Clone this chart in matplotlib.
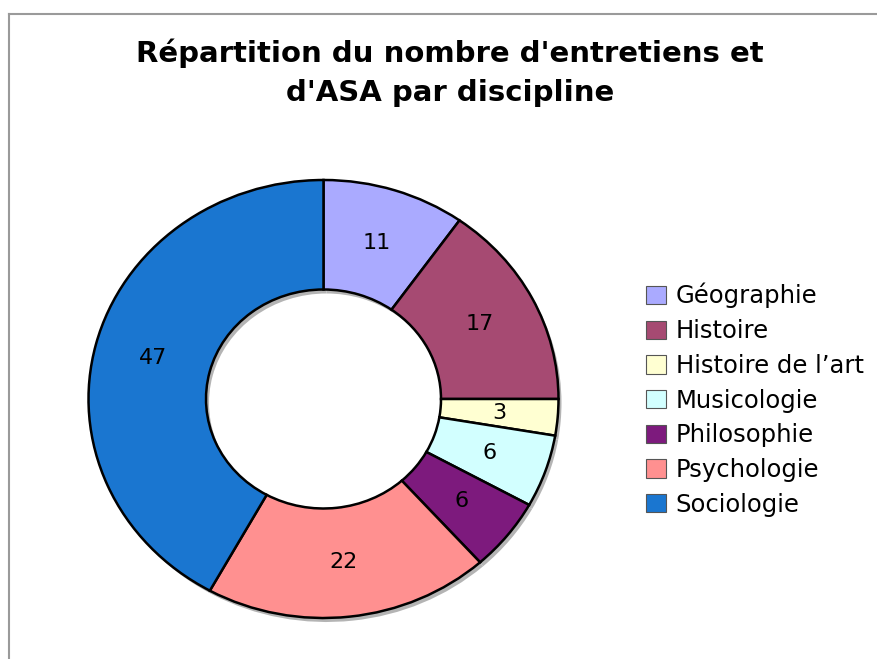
import matplotlib
matplotlib.use("Agg")
import matplotlib.pyplot as plt
from matplotlib.patches import Patch
import numpy as np

# données
disciplines = ["Géographie", "Histoire", "Histoire de l\u2019art", "Musicologie",
               "Philosophie", "Psychologie", "Sociologie"]
effectifs = [11, 17, 3, 6, 6, 22, 47]
couleurs = ["#aaaaff", "#a64a72", "#ffffd2", "#d2ffff", "#7d1a7d", "#ff9090", "#1a76d0"]

W, H = 877, 659
fig = plt.figure(figsize=(W / 100, H / 100), dpi=100)

# cadre gris en haut et à gauche
cadre = fig.add_axes([0, 0, 1, 1])
cadre.set_xlim(0, W)
cadre.set_ylim(H, 0)
cadre.axis("off")
cadre.plot([9, W], [14, 14], color="#9a9a9a", lw=1.5)
cadre.plot([9, 9], [14, H], color="#9a9a9a", lw=1.5)

# anneau (légèrement elliptique, comme l'original)
cx, cy, rx, ry = 323.5, 399, 235, 219
ax = fig.add_axes([(cx - rx) / W, 1 - (cy + ry) / H, 2 * rx / W, 2 * ry / H])
largeur = 0.5

# ombre
dx, dy = 3 / rx, -4 / ry
ax.pie(effectifs, radius=1, center=(dx, dy), startangle=90, counterclock=False,
       colors=["#b4b4b4"] * len(effectifs),
       wedgeprops=dict(width=largeur, linewidth=0), frame=True)
ax.pie(effectifs, radius=1, center=(0, 0), startangle=90, counterclock=False,
       colors=couleurs,
       wedgeprops=dict(width=largeur, edgecolor="black", linewidth=1.8),
       frame=True)
ax.set_aspect("auto")
ax.set_xlim(-1, 1)
ax.set_ylim(-1, 1)
ax.axis("off")

# étiquettes
total = sum(effectifs)
angle = 90.0
r_lab = 1 - largeur / 2
for v in effectifs:
    a = angle - 360.0 * v / total / 2
    angle -= 360.0 * v / total
    ax.text(r_lab * np.cos(np.radians(a)), r_lab * np.sin(np.radians(a)), str(v),
            ha="center", va="center", fontsize=16, color="black")

cadre.text(450, 73, "Répartition du nombre d'entretiens et\nd'ASA par discipline",
           ha="center", va="center", fontsize=21, fontweight="bold", linespacing=1.5)

handles = [Patch(facecolor=c, edgecolor="#555555", linewidth=0.8) for c in couleurs]
fig.legend(handles, disciplines, loc="upper left", bbox_to_anchor=(646 / W, 1 - 283 / H),
           frameon=False, fontsize=17.5, handlelength=0.82, handleheight=0.78,
           handletextpad=0.4, labelspacing=0.44, borderaxespad=0, borderpad=0)

fig.savefig("out.png", dpi=100)
